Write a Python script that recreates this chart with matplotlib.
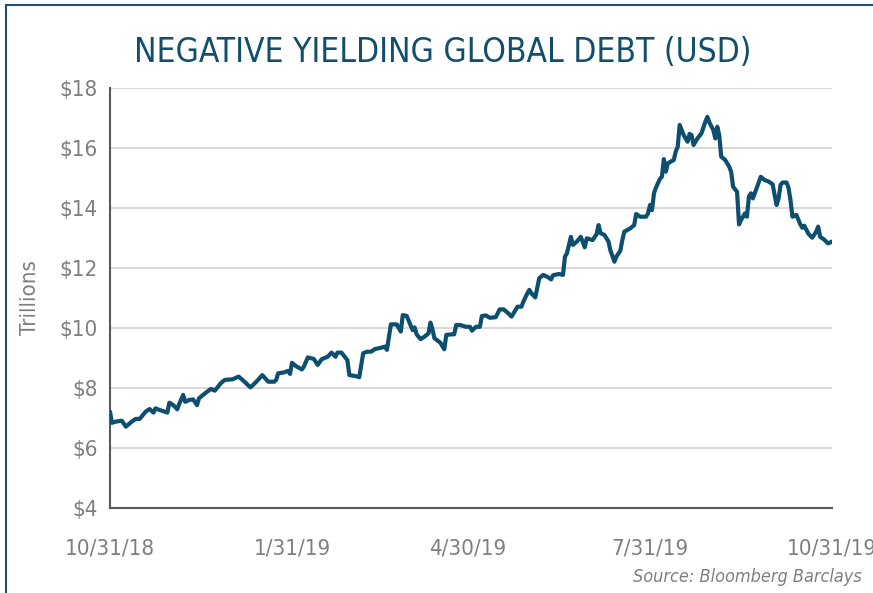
import matplotlib
matplotlib.use("Agg")
import matplotlib.pyplot as plt
import matplotlib.dates as mdates
from matplotlib.patches import Rectangle
from matplotlib.ticker import FixedLocator
import pandas as pd

# Negative yielding global debt, trillions USD
start_date = "2018-10-31"
days_since_start = [
    0, 1, 3, 6, 8, 11, 13, 15, 18, 20, 22, 23, 25, 29, 30, 32, 34, 35, 37, 38,
    40, 42, 44, 45, 48, 51, 53, 56, 58, 62, 65, 67, 71, 74, 77, 80, 83, 84, 85, 88,
    90, 91, 92, 94, 97, 98, 100, 103, 105, 107, 110, 112, 114, 115, 117, 120, 121, 124, 126, 128,
    130, 132, 134, 137, 139, 140, 142, 145, 147, 148, 150, 153, 154, 155, 157, 159, 161, 162, 163, 164,
    167, 169, 170, 173, 174, 175, 177, 180, 182, 183, 185, 187, 188, 190, 192, 195, 197, 199, 201, 203,
    206, 208, 209, 211, 212, 213, 215, 217, 219, 221, 223, 224, 227, 229, 230, 231, 233, 234, 236, 238,
    240, 241, 244, 246, 247, 248, 250, 252, 253, 255, 256, 258, 259, 260, 263, 265, 266, 268, 271, 272,
    273, 274, 275, 276, 278, 279, 280, 281, 282, 285, 286, 287, 288, 290, 292, 293, 294, 295, 297, 299,
    301, 302, 303, 305, 306, 307, 308, 309, 311, 313, 314, 315, 317, 318, 319, 321, 322, 323, 324, 325,
    327, 329, 331, 333, 335, 336, 337, 338, 339, 340, 342, 343, 344, 345, 347, 349, 350, 351, 353, 355,
    357, 358, 359, 361, 363, 365,
]
debt_trillions = [
    7.20, 6.83, 6.87, 6.90, 6.70, 6.87, 6.96, 6.96, 7.20, 7.29, 7.17, 7.31, 7.26, 7.17, 7.50, 7.42, 7.28, 7.46, 7.76, 7.53,
    7.59, 7.61, 7.42, 7.65, 7.81, 7.96, 7.90, 8.15, 8.26, 8.28, 8.37, 8.26, 8.01, 8.20, 8.42, 8.20, 8.20, 8.26, 8.48, 8.51,
    8.56, 8.46, 8.83, 8.72, 8.61, 8.70, 9.01, 8.96, 8.76, 8.95, 9.03, 9.17, 9.03, 9.17, 9.17, 8.92, 8.42, 8.39, 8.35, 9.15,
    9.20, 9.20, 9.29, 9.33, 9.37, 9.26, 10.11, 10.11, 9.87, 10.42, 10.39, 9.92, 10.01, 9.78, 9.62, 9.70, 9.81, 10.17, 9.95, 9.65,
    9.50, 9.28, 9.76, 9.78, 9.78, 10.09, 10.09, 10.03, 10.03, 9.90, 10.03, 10.03, 10.39, 10.41, 10.33, 10.35, 10.61, 10.61, 10.50, 10.37,
    10.70, 10.70, 10.87, 11.15, 11.26, 11.15, 11.01, 11.65, 11.76, 11.70, 11.61, 11.75, 11.79, 11.76, 12.37, 12.48, 13.03, 12.76, 12.87, 13.03,
    12.68, 12.98, 12.92, 13.12, 13.42, 13.15, 13.09, 12.87, 12.57, 12.20, 12.37, 12.57, 12.92, 13.20, 13.31, 13.42, 13.79, 13.70, 13.70, 13.81,
    14.09, 13.92, 14.48, 14.67, 14.96, 15.03, 15.62, 15.20, 15.48, 15.59, 15.87, 16.03, 16.76, 16.42, 16.20, 16.46, 16.42, 16.09, 16.31, 16.48,
    16.87, 17.03, 16.84, 16.59, 16.31, 16.70, 16.42, 15.70, 15.59, 15.37, 15.20, 14.70, 14.53, 13.44, 13.59, 13.81, 13.70, 14.37, 14.48, 14.31,
    14.67, 15.03, 14.92, 14.87, 14.78, 14.42, 14.09, 14.31, 14.76, 14.84, 14.84, 14.67, 14.26, 13.70, 13.76, 13.44, 13.33, 13.40, 13.14, 13.00,
    13.20, 13.37, 13.03, 12.94, 12.81, 12.87,
]
tick_dates = ["2018-10-31", "2019-01-31", "2019-04-30", "2019-07-31", "2019-10-31"]
tick_labels = ["10/31/18", "1/31/19", "4/30/19", "7/31/19", "10/31/19"]
y_ticks = [4, 6, 8, 10, 12, 14, 16, 18]

dates = pd.Timestamp(start_date) + pd.to_timedelta(days_since_start, unit="D")

FONT = ["DejaVu Sans Condensed", "Liberation Sans Narrow", "DejaVu Sans"]
plt.rcParams["font.family"] = FONT
plt.rcParams["font.stretch"] = "condensed"

LINE = "#0d4f6e"
GREY = "#7f7f7f"

fig = plt.figure(figsize=(8.73, 5.93), dpi=100)
ax = fig.add_axes([110 / 873, 1 - 507.7 / 593, 722 / 873, 420 / 593])

ax.plot(dates, debt_trillions, color=LINE, lw=3, solid_joinstyle="round",
        solid_capstyle="round", zorder=3)

ax.set_ylim(4, 18)
ax.set_yticks(y_ticks)
ax.set_yticklabels([f"${v}" for v in y_ticks])
ax.set_xlim(pd.Timestamp(tick_dates[0]), pd.Timestamp(tick_dates[-1]))
ax.xaxis.set_major_locator(FixedLocator(mdates.date2num(pd.to_datetime(tick_dates))))
ax.set_xticklabels(tick_labels)

ax.grid(axis="y", color="#d9d9d9", lw=1.5, zorder=0)
ax.tick_params(axis="both", length=0, labelsize=16, colors=GREY)
ax.tick_params(axis="x", pad=22)
ax.tick_params(axis="y", pad=9)
for side in ("top", "right"):
    ax.spines[side].set_visible(False)
for side in ("left", "bottom"):
    ax.spines[side].set_color("#595959")
    ax.spines[side].set_linewidth(1.5)

ax.set_ylabel("Trillions", fontsize=16, color=GREY, labelpad=14)

fig.text(0.507, 1 - 52 / 593, "NEGATIVE YIELDING GLOBAL DEBT (USD)", ha="center",
         va="center", fontsize=24, color="#124f6c")
fig.text(862 / 873, 1 - 577 / 593, "Source: Bloomberg Barclays", ha="right",
         va="center", fontsize=13, style="italic", color=GREY)

# frame around the graphic (cut at right and bottom in the original)
fig.patches.append(Rectangle((5.5 / 873, -0.1), 1.2, 1 - 5.5 / 593 + 0.1,
                             transform=fig.transFigure, fill=False,
                             edgecolor="#1f4e79", lw=1.5))

fig.savefig("out.png", dpi=100)
